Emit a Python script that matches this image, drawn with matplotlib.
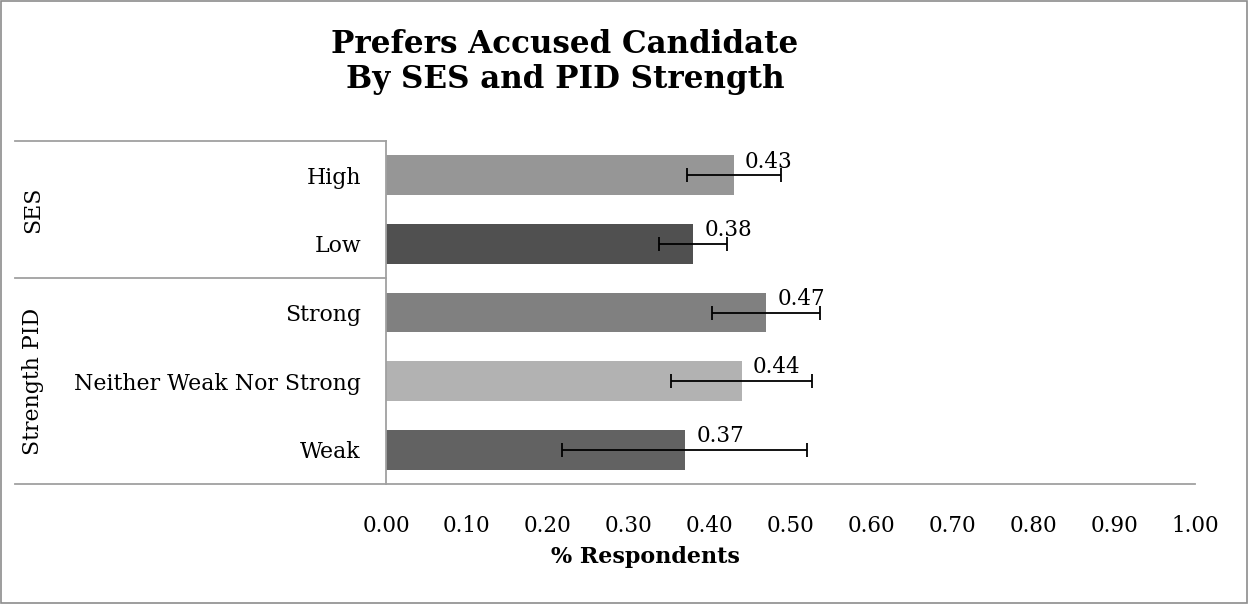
import matplotlib.pyplot as plt
import numpy as np

# data
categories = ['High', 'Low', 'Strong', 'Neither Weak Nor Strong', 'Weak']
values = [0.43, 0.38, 0.47, 0.44, 0.37]
err_low = [0.372, 0.338, 0.403, 0.352, 0.218]
err_high = [0.488, 0.422, 0.536, 0.527, 0.521]
colors = ['#969696', '#505050', '#808080', '#b2b2b2', '#626262']
groups = ['SES', 'Strength PID']
group_rows = [0.5, 3.0]
ticks = np.arange(0, 1.01, 0.1)

plt.rcParams['font.family'] = ['DejaVu Serif']
FONT = 'DejaVu Serif'


def main():
    fig = plt.figure(figsize=(12.49, 6.04), dpi=100)
    W, H = 1249, 604
    ax = fig.add_axes([386 / W, 1 - 484 / H, (1195 - 386) / W, (484 - 141) / H])

    y = np.arange(len(categories))
    vals = np.array(values)
    xerr = np.array([vals - np.array(err_low), np.array(err_high) - vals])
    ax.barh(y, vals, height=0.58, color=colors, zorder=2)
    ax.errorbar(vals, y, xerr=xerr, fmt='none', ecolor='black',
                elinewidth=1.3, capsize=5, capthick=1.3, zorder=3)
    for yi, v in zip(y, vals):
        ax.annotate('%.2f' % v, (v, yi), xytext=(8, 2), textcoords='offset points',
                    ha='left', va='bottom', fontsize=15.5, fontfamily=FONT)

    ax.set_xlim(0, 1)
    ax.set_ylim(len(categories) - 0.5, -0.5)
    ax.set_xticks(ticks)
    ax.set_xticklabels(['%.2f' % t for t in ticks], fontsize=15.5, fontfamily=FONT)
    ax.set_yticks(y)
    ax.set_yticklabels(categories, fontsize=15.8, fontfamily=FONT)
    ax.tick_params(length=0)
    ax.tick_params(axis='x', pad=22)
    ax.tick_params(axis='y', pad=18)
    for s in ['top', 'right']:
        ax.spines[s].set_visible(False)
    for s in ['left', 'bottom']:
        ax.spines[s].set_color('#a0a0a0')
        ax.spines[s].set_linewidth(1.3)

    # category box lines to the left of the axes
    x0 = (15 - 386) / (1195 - 386)
    for yy in [1.0, 0.6, 0.0]:
        ax.plot([x0, 0], [yy, yy], color='#a0a0a0', lw=1.3,
                transform=ax.transAxes, clip_on=False)
    trans = ax.get_yaxis_transform()
    xg = (33 - 386) / (1195 - 386)
    for g, r in zip(groups, group_rows):
        ax.text(xg, r, g, rotation=90, ha='center', va='center',
                fontsize=15.8, fontfamily=FONT, transform=trans)

    fig.text(565 / W, 1 - 62 / H, 'Prefers Accused Candidate\nBy SES and PID Strength',
             ha='center', va='center', fontsize=22.3, fontweight='bold',
             fontfamily=FONT, linespacing=1.15)
    fig.text(645 / W, 1 - 557 / H, '% Respondents', ha='center', va='center',
             fontsize=16, fontweight='bold', fontfamily=FONT)

    # outer border
    fig.patches.append(plt.Rectangle((0.0005, 0.001), 0.998, 0.997, fill=False,
                                     edgecolor='#8c8c8c', lw=1.2,
                                     transform=fig.transFigure))
    fig.savefig('out.png', dpi=100)


if __name__ == '__main__':
    main()
